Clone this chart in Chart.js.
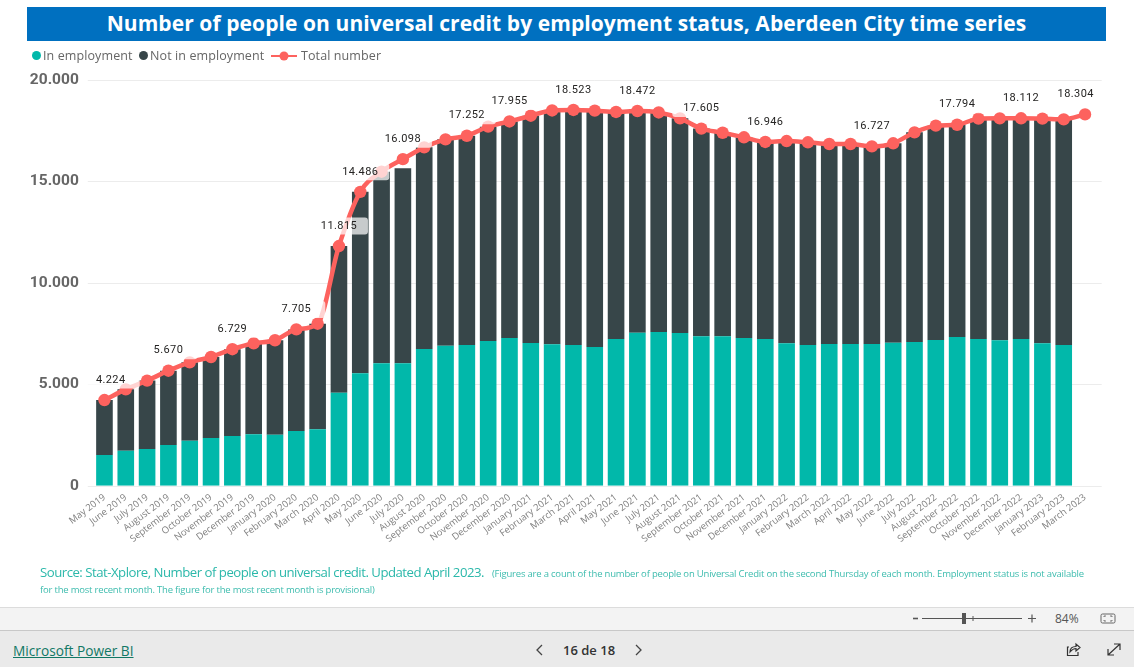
<!DOCTYPE html>
<html><head><meta charset="utf-8">
<script src="https://cdn.jsdelivr.net/npm/chart.js@4"></script>
<style>
html,body{margin:0;padding:0;background:#fff;width:1134px;height:667px;overflow:hidden;font-family:"Open Sans",sans-serif}
.a{position:absolute;white-space:nowrap}
#c{position:absolute;left:0;top:0}
.dot{position:absolute;width:9px;height:9px;border-radius:50%}
</style></head><body>
<canvas id="c" width="1134" height="667"></canvas>
<div class="a" style="left:27px;top:7px;width:1079px;height:34px;background:#0070C0;color:#fff;font-weight:700;font-size:21px;line-height:33px;text-align:center;letter-spacing:.08px">Number of people on universal credit by employment status, Aberdeen City time series</div>

<div class="dot" style="left:32px;top:51px;background:#01B8AA"></div>
<div class="a" style="left:43px;top:47px;font-size:12.5px;line-height:18px;color:#666;letter-spacing:.1px">In employment</div>
<div class="dot" style="left:139px;top:51px;background:#374649"></div>
<div class="a" style="left:150px;top:47px;font-size:12.5px;line-height:18px;color:#666;letter-spacing:.1px">Not in employment</div>
<svg class="a" style="left:271px;top:49px" width="27" height="14"><line x1="0" y1="7" x2="26" y2="7" stroke="#FD625E" stroke-width="2"/><circle cx="13" cy="7" r="4.5" fill="#FD625E"/></svg>
<div class="a" style="left:301px;top:47px;font-size:12.5px;line-height:18px;color:#666;letter-spacing:.1px">Total number</div>

<div class="a" style="left:40px;top:563px;font-size:13.2px;line-height:19px;color:#2bb8aa;letter-spacing:-.5px">Source: Stat-Xplore, Number of people on universal credit. Updated April 2023.</div>
<div class="a" style="left:492px;top:567px;font-size:9.5px;line-height:14px;color:#3dbcae;letter-spacing:-.2px">(Figures are a count of the number of people on Universal Credit on the second Thursday of each month. Employment status is not available</div>
<div class="a" style="left:40px;top:583px;font-size:9.5px;line-height:14px;color:#3dbcae;letter-spacing:-.2px">for the most recent month. The figure for the most recent month is provisional)</div>

<div class="a" style="left:0;top:607px;width:1134px;height:23px;background:#f3f3f3;border-top:1px solid #dcdcdc"></div>
<div class="a" style="left:0;top:630px;width:1134px;height:37px;background:#eaeaea;border-top:1px solid #c8c8c8"></div>
<div class="a" style="left:13px;top:641px;font-size:13.7px;line-height:20px;color:#117865;text-decoration:underline">Microsoft Power BI</div>
<div class="a" style="left:563px;top:641px;font-size:13px;line-height:18px;color:#333;font-weight:600">16 de 18</div>
<svg class="a" style="left:530px;top:642px" width="120" height="16" fill="none" stroke="#444" stroke-width="1.3"><path d="M12 3 L7 8 L12 13"/><path d="M106 3 L111 8 L106 13"/></svg>
<svg class="a" style="left:905px;top:610px" width="220" height="18" fill="none" stroke="#555">
<path d="M8 8.5H13" stroke-width="1.6"/><path d="M17 8.5H117"/><rect x="57" y="3" width="4" height="11" fill="#555" stroke="none"/><path d="M68 6V11"/><path d="M123 8.5H131M127 4.5V12.5" stroke-width="1.2"/>
<rect x="196" y="4" width="14" height="9" rx="1.5" stroke="#666"/><path d="M199 7V6H201M207 7V6H205M199 10V11H201M207 10V11H205" stroke-width=".8"/></svg>
<div class="a" style="left:1055px;top:611px;font-size:12px;line-height:16px;color:#555">84%</div>
<svg class="a" style="left:1064px;top:640px" width="62" height="20" fill="none" stroke="#333" stroke-width="1.2"><path d="M5 7H3.5V15.5H14V12"/><path d="M6 12C6 8 9 6.5 12 6.5V4L16 7.5L12 11V8.5C10 8.5 8 9.5 6 12Z"/><path d="M44 15L56 4M50 4H56V10M44 9V15H50"/></svg>

<script>
const categories = ["May 2019","June 2019","July 2019","August 2019","September 2019","October 2019","November 2019","December 2019","January 2020","February 2020","March 2020","April 2020","May 2020","June 2020","July 2020","August 2020","September 2020","October 2020","November 2020","December 2020","January 2021","February 2021","March 2021","April 2021","May 2021","June 2021","July 2021","August 2021","September 2021","October 2021","November 2021","December 2021","January 2022","February 2022","March 2022","April 2022","May 2022","June 2022","July 2022","August 2022","September 2022","October 2022","November 2022","December 2022","January 2023","February 2023","March 2023"];
const inEmployment = [1513,1726,1809,2006,2219,2351,2450,2534,2514,2697,2780,4585,5541,6034,6034,6739,6902,6936,7134,7282,7035,6971,6936,6838,7232,7543,7577,7528,7365,7365,7282,7232,7018,6936,6986,6986,6986,7050,7084,7183,7331,7232,7167,7232,7018,6936,null];
const notInEmployment = [2711,3024,3371,3664,3861,3994,4279,4486,4656,5008,5205,7230,8945,9446,9616,9941,10173,10316,10566,10673,11205,11529,11587,11652,11193,10929,10823,10582,10240,10035,9893,9714,9972,9994,9859,9859,9741,9830,10336,10567,10463,10863,10943,10880,11077,11124,null];
const totalNumber = [4224,4750,5180,5670,6080,6345,6729,7020,7170,7705,7985,11815,14486,15480,16098,16680,17075,17252,17700,17955,18240,18500,18523,18490,18425,18472,18400,18110,17605,17400,17175,16946,16990,16930,16845,16845,16727,16880,17420,17750,17794,18095,18110,18112,18095,18060,18304];
const labelledMonths = ["May 2019","August 2019","November 2019","February 2020","April 2020","May 2020","July 2020","October 2020","December 2020","March 2021","June 2021","September 2021","December 2021","May 2022","September 2022","December 2022","March 2023"];
const yTicks = [0,5000,10000,15000,20000];

const fmt = v => String(v).replace(/\B(?=(\d{3})+$)/g,'.');

const gridPlugin = {
  id:'gridExt',
  beforeDatasetsDraw(ch){
    const {ctx,chartArea:a,scales:{y}} = ch;
    ctx.save(); ctx.strokeStyle='#ececec'; ctx.lineWidth=1;
    yTicks.forEach(t=>{const p=Math.round(y.getPixelForValue(t))+.5;
      ctx.beginPath();ctx.moveTo(a.left-6,p);ctx.lineTo(a.right+6,p);ctx.stroke();});
    ctx.restore();
  }
};
const labelPlugin = {
  id:'pointLabels',
  afterDatasetsDraw(ch){
    const {ctx,scales:{x,y}} = ch;
    ctx.save();
    ctx.font='11px Roboto'; ctx.letterSpacing='0.4px';
    ctx.textAlign='center'; ctx.textBaseline='middle';
    labelledMonths.forEach(m=>{
      const i=categories.indexOf(m);
      let cx=x.getPixelForValue(i);
      const cy=y.getPixelForValue(totalNumber[i])-20;
      cx=Math.max(cx,110.7); cx=Math.min(cx,1075.7);
      ctx.fillStyle='rgba(255,255,255,0.72)';
      ctx.beginPath();ctx.roundRect(cx-29,cy-8.5,58,17,3);ctx.fill();
      ctx.fillStyle='#252423';
      ctx.fillText(fmt(totalNumber[i]),cx,cy);
    });
    ctx.restore();
  }
};

new Chart(document.getElementById('c'),{
  data:{labels:categories,datasets:[
    {type:'line',label:'Total number',data:totalNumber,stack:'line',order:0,borderColor:'#FD625E',backgroundColor:'#FD625E',borderWidth:4.5,pointRadius:6.2,pointBackgroundColor:'#FD625E',pointBorderWidth:0,cubicInterpolationMode:'monotone'},
    {type:'bar',label:'In employment',data:inEmployment,stack:'bars',order:1,backgroundColor:'#01B8AA',categoryPercentage:1,barPercentage:.78},
    {type:'bar',label:'Not in employment',data:notInEmployment,stack:'bars',order:2,backgroundColor:'#374649',categoryPercentage:1,barPercentage:.78}
  ]},
  options:{
    responsive:false,animation:false,devicePixelRatio:1,
    layout:{padding:{left:0,right:38.3,top:80,bottom:0}},
    plugins:{legend:{display:false},tooltip:{enabled:false}},
    scales:{
      x:{stacked:true,grid:{display:false,drawTicks:false},border:{display:false},
        afterFit:s=>{s.height=667-485.7;},
        ticks:{autoSkip:false,minRotation:37,maxRotation:37,padding:6,color:'#808080',font:{family:'"Open Sans"',size:9.5}}},
      y:{stacked:true,min:0,max:20000,grid:{display:false,drawTicks:false},border:{display:false},
        afterBuildTicks:s=>{s.ticks=yTicks.map(v=>({value:v}));},
        afterFit:s=>{s.width=93.8;},
        ticks:{padding:15,color:'#666',font:{family:'Roboto',size:15.5,weight:'700'},callback:v=>fmt(v)}}
    }
  },
  plugins:[gridPlugin,labelPlugin]
});
</script>
</body></html>
